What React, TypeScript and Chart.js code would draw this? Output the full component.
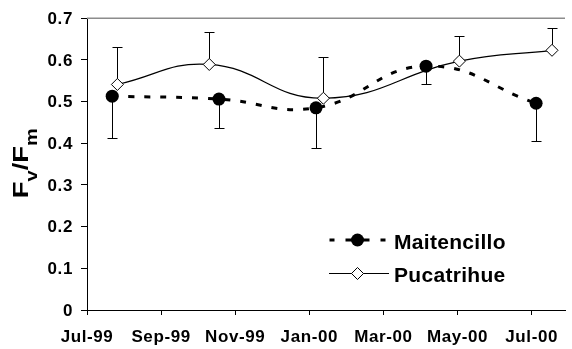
import React, { useEffect, useRef } from "react";
import { Chart, registerables } from "chart.js";

Chart.register(...registerables);

// ---- data (x in months since Jul-99) ----
const tickLabels = ["Jul-99", "Sep-99", "Nov-99", "Jan-00", "Mar-00", "May-00", "Jul-00"];
const tickMonths = [0, 2, 4, 6, 8, 10, 12];

const maitencilloMonths = [0.68, 3.56, 6.18, 9.15, 12.12];
const maitencilloValues = [0.513, 0.506, 0.485, 0.585, 0.496];
const maitencilloLower = [0.412, 0.436, 0.388, 0.541, 0.406];

const pucatrihueMonths = [0.82, 3.3, 6.38, 10.05, 12.55];
const pucatrihueValues = [0.541, 0.589, 0.508, 0.597, 0.623];
const pucatrihueUpper = [0.63, 0.668, 0.606, 0.657, 0.677];

const FONT = '"Liberation Sans", Arial, Helvetica, sans-serif';

export default function App() {
  const ref = useRef<HTMLCanvasElement>(null);

  useEffect(() => {
    const canvas = ref.current;
    if (!canvas) return;

    const extras = {
      id: "extras",
      beforeDraw(chart: any) {
        (chart.ctx as any).letterSpacing = "0.6px";
      },
      beforeDatasetsDraw(chart: any) {
        const ctx = chart.ctx;
        const xs = chart.scales.x;
        const ys = chart.scales.y;
        const { left, right, top } = chart.chartArea;
        ctx.save();
        ctx.strokeStyle = "#8c8c8c";
        ctx.lineWidth = 1.5;
        ctx.beginPath();
        ctx.moveTo(left, top);
        ctx.lineTo(right, top);
        ctx.stroke();

        ctx.strokeStyle = "#000";
        ctx.lineWidth = 1;
        const bar = (m: number, v: number, e: number) => {
          const x = Math.round(xs.getPixelForValue(m)) + 0.5;
          const y1 = ys.getPixelForValue(v);
          const y2 = Math.round(ys.getPixelForValue(e)) + 0.5;
          ctx.beginPath();
          ctx.moveTo(x, y1);
          ctx.lineTo(x, y2);
          ctx.moveTo(x - 5, y2);
          ctx.lineTo(x + 5, y2);
          ctx.stroke();
        };
        maitencilloMonths.forEach((m, i) => bar(m, maitencilloValues[i], maitencilloLower[i]));
        pucatrihueMonths.forEach((m, i) => bar(m, pucatrihueValues[i], pucatrihueUpper[i]));
        ctx.restore();
      },
      afterDraw(chart: any) {
        const ctx = chart.ctx;
        ctx.save();
        (ctx as any).letterSpacing = "0px";
        ctx.fillStyle = "#000";
        ctx.strokeStyle = "#000";

        // legend: Maitencillo
        const cx = 357.5;
        const y1 = 240;
        ctx.lineWidth = 3;
        ctx.beginPath();
        [[-28, -23], [-12, 12], [23, 28]].forEach(([a, b]) => {
          ctx.moveTo(cx + a, y1);
          ctx.lineTo(cx + b, y1);
        });
        ctx.stroke();
        ctx.beginPath();
        ctx.arc(cx, y1, 6.5, 0, Math.PI * 2);
        ctx.fill();

        // legend: Pucatrihue
        const y2 = 273.5;
        ctx.lineWidth = 1.2;
        ctx.beginPath();
        ctx.moveTo(329, y2);
        ctx.lineTo(389, y2);
        ctx.stroke();
        ctx.beginPath();
        ctx.moveTo(cx, y2 - 6);
        ctx.lineTo(cx + 6, y2);
        ctx.lineTo(cx, y2 + 6);
        ctx.lineTo(cx - 6, y2);
        ctx.closePath();
        ctx.fillStyle = "#fff";
        ctx.fill();
        ctx.lineWidth = 1;
        ctx.stroke();

        ctx.fillStyle = "#000";
        (ctx as any).letterSpacing = "0.3px";
        ctx.font = `bold 21px ${FONT}`;
        ctx.textAlign = "left";
        ctx.textBaseline = "alphabetic";
        ctx.fillText("Maitencillo", 394, 249);
        ctx.fillText("Pucatrihue", 394, 282);
        ctx.restore();

        // y-axis title F_v/F_m
        ctx.save();
        (ctx as any).letterSpacing = "0px";
        ctx.fillStyle = "#000";
        ctx.translate(27.5, 197);
        ctx.rotate(-Math.PI / 2);
        ctx.scale(1.25, 1);
        ctx.textAlign = "left";
        ctx.textBaseline = "alphabetic";
        const big = `bold 22px ${FONT}`;
        const small = `bold 16px ${FONT}`;
        const parts: [string, string, number][] = [
          ["F", big, 0],
          ["v", small, 9],
          ["/F", big, 0],
          ["m", small, 9],
        ];
        let x = -1;
        for (const [t, f, dy] of parts) {
          ctx.font = f;
          ctx.fillText(t, x, dy);
          x += ctx.measureText(t).width;
        }
        ctx.restore();
      },
    };

    const tickFont = { family: FONT, size: 17, weight: "bold" as const };

    const chart = new Chart(canvas, {
      type: "line",
      data: {
        datasets: [
          {
            label: "Maitencillo",
            data: maitencilloMonths.map((m, i) => ({ x: m, y: maitencilloValues[i] })),
            borderColor: "#000",
            backgroundColor: "#000",
            borderWidth: 3,
            borderDash: [6, 10],
            tension: 0.45,
            pointStyle: "circle",
            pointRadius: 6.5,
            pointBackgroundColor: "#000",
            pointBorderColor: "#000",
            pointBorderWidth: 0,
          },
          {
            label: "Pucatrihue",
            data: pucatrihueMonths.map((m, i) => ({ x: m, y: pucatrihueValues[i] })),
            borderColor: "#000",
            backgroundColor: "#fff",
            borderWidth: 1.2,
            tension: 0.45,
            pointStyle: "rectRot",
            pointRadius: 6,
            pointBackgroundColor: "#fff",
            pointBorderColor: "#000",
            pointBorderWidth: 1,
          },
        ],
      },
      options: {
        responsive: false,
        animation: false,
        devicePixelRatio: 1,
        layout: { padding: { top: 15, right: 0, left: 0, bottom: 0 } },
        plugins: { legend: { display: false }, tooltip: { enabled: false } },
        scales: {
          x: {
            type: "linear",
            min: 0,
            max: 12.9,
            afterBuildTicks: (s: any) => {
              s.ticks = tickMonths.map((v) => ({ value: v }));
            },
            afterFit: (s: any) => {
              s.height = 39;
            },
            ticks: {
              callback: (v: any) => {
                const i = tickMonths.indexOf(Number(v));
                return i >= 0 ? tickLabels[i] : "";
              },
              font: tickFont,
              color: "#000",
              padding: 12,
              maxRotation: 0,
              autoSkip: false,
            },
            grid: { drawOnChartArea: false, drawTicks: true, tickLength: 5, color: "#000" },
            border: { color: "#000", width: 1 },
          },
          y: {
            min: 0,
            max: 0.7,
            afterFit: (s: any) => {
              s.width = 87;
            },
            ticks: {
              stepSize: 0.1,
              callback: (v: any) => (Number(v) === 0 ? "0" : Number(v).toFixed(1)),
              font: tickFont,
              color: "#000",
              padding: 8,
              labelOffset: 1,
            },
            grid: { drawOnChartArea: false, drawTicks: true, tickLength: 6, color: "#000" },
            border: { color: "#000", width: 1 },
          },
        },
      },
      plugins: [extras],
    } as any);

    return () => chart.destroy();
  }, []);

  return (
    <div style={{ position: "fixed", left: 0, top: 0, width: 572, height: 349, background: "#fff" }}>
      <canvas ref={ref} width={572} height={349} style={{ width: 572, height: 349, display: "block" }} />
    </div>
  );
}
